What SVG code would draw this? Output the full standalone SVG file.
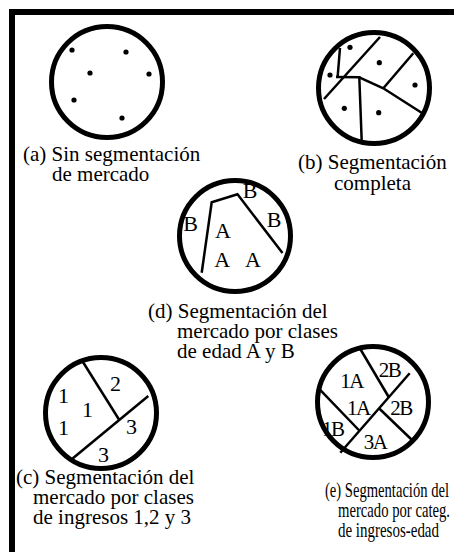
<svg xmlns="http://www.w3.org/2000/svg" width="454" height="552" viewBox="0 0 454 552">
<style>
.ring{fill:none;stroke:#000;stroke-width:5}
.div{fill:none;stroke:#000;stroke-width:2.5;stroke-linejoin:miter}
.dot{fill:#000}
text{font-family:'Liberation Serif','Times New Roman',serif;fill:#000}
.cap{font-size:21px}
.lab{font-size:22px}
.lab2{font-size:21px;letter-spacing:-1.5px}
</style>
<rect width="454" height="552" fill="#fff"/>
<path d="M12,552 V12 H454" fill="none" stroke="#000" stroke-width="6"/>

<g id="a">
<circle class="ring" cx="107" cy="82" r="55.5"/>
<circle class="dot" cx="72" cy="50" r="2.6"/>
<circle class="dot" cx="126" cy="52" r="2.6"/>
<circle class="dot" cx="90" cy="73" r="2.6"/>
<circle class="dot" cx="149" cy="74" r="2.6"/>
<circle class="dot" cx="74" cy="100" r="2.6"/>
<circle class="dot" cx="122" cy="118" r="2.6"/>
<text class="cap" x="23" y="161">(a) Sin segmentación</text>
<text class="cap" x="52" y="181">de mercado</text>
</g>

<g id="b">
<circle class="ring" cx="374" cy="88" r="55.5"/>
<polyline class="div" points="380,37 324,99"/>
<polyline class="div" points="340,48 337.7,76"/>
<polyline class="div" points="336,77 359.3,77.3 361.7,141"/>
<polyline class="div" points="359.3,77.3 383.3,88.3 422,113"/>
<polyline class="div" points="383.3,88.3 413.3,53.3"/>
<circle class="dot" cx="350" cy="47.3" r="2.6"/>
<circle class="dot" cx="330" cy="75" r="2.6"/>
<circle class="dot" cx="379.3" cy="62.7" r="2.6"/>
<circle class="dot" cx="415" cy="85" r="2.6"/>
<circle class="dot" cx="344.3" cy="108.3" r="2.6"/>
<circle class="dot" cx="378.7" cy="112.7" r="2.6"/>
<text class="cap" x="298" y="169">(b) Segmentación</text>
<text class="cap" x="334" y="190">completa</text>
</g>

<g id="d">
<circle class="ring" cx="235" cy="236" r="55.5"/>
<polyline class="div" points="201.7,272.7 211.7,202.3 237.5,194.3 282.5,253"/>
<text class="lab" x="242.7" y="198.3">B</text>
<text class="lab" x="183.3" y="231">B</text>
<text class="lab" x="266.7" y="227.3">B</text>
<text class="lab" x="215" y="238.3">A</text>
<text class="lab" x="214.3" y="267.3">A</text>
<text class="lab" x="245" y="267.3">A</text>
<text class="cap" x="148" y="318">(d) Segmentación del</text>
<text class="cap" x="177" y="338">mercado por clases</text>
<text class="cap" x="177" y="358">de edad A y B</text>
</g>

<g id="c">
<circle class="ring" cx="101" cy="413" r="55.5"/>
<polyline class="div" points="81.7,360 119.3,420"/>
<polyline class="div" points="71.7,459.3 148.3,396"/>
<text class="lab" x="58" y="402.7">1</text>
<text class="lab" x="58" y="435">1</text>
<text class="lab" x="82" y="416.7">1</text>
<text class="lab" x="110" y="390.7">2</text>
<text class="lab" x="126" y="434">3</text>
<text class="lab" x="98" y="461.7">3</text>
<text class="cap" x="16" y="484">(c) Segmentación del</text>
<text class="cap" x="33" y="504">mercado por clases</text>
<text class="cap" x="33" y="524">de ingresos 1,2 y 3</text>
</g>

<g id="e">
<circle class="ring" cx="373" cy="402" r="55.5"/>
<polyline class="div" points="340.3,452.7 409.7,373.3"/>
<polyline class="div" points="360.3,349 388.7,397"/>
<polyline class="div" points="318.7,388.3 359.7,431"/>
<polyline class="div" points="378.7,408 412,440"/>
<text class="lab2" x="340.3" y="388.3">1A</text>
<text class="lab2" x="378.7" y="376.7">2B</text>
<text class="lab2" x="347" y="415">1A</text>
<text class="lab2" x="390.3" y="415">2B</text>
<text class="lab2" x="322" y="436">1B</text>
<text class="lab2" x="363.7" y="449.3">3A</text>
<text class="cap" x="325" y="497" textLength="124" lengthAdjust="spacingAndGlyphs">(e) Segmentación del</text>
<text class="cap" x="338" y="517" textLength="112" lengthAdjust="spacingAndGlyphs">mercado por categ.</text>
<text class="cap" x="338" y="537" textLength="101" lengthAdjust="spacingAndGlyphs">de ingresos-edad</text>
</g>
</svg>
